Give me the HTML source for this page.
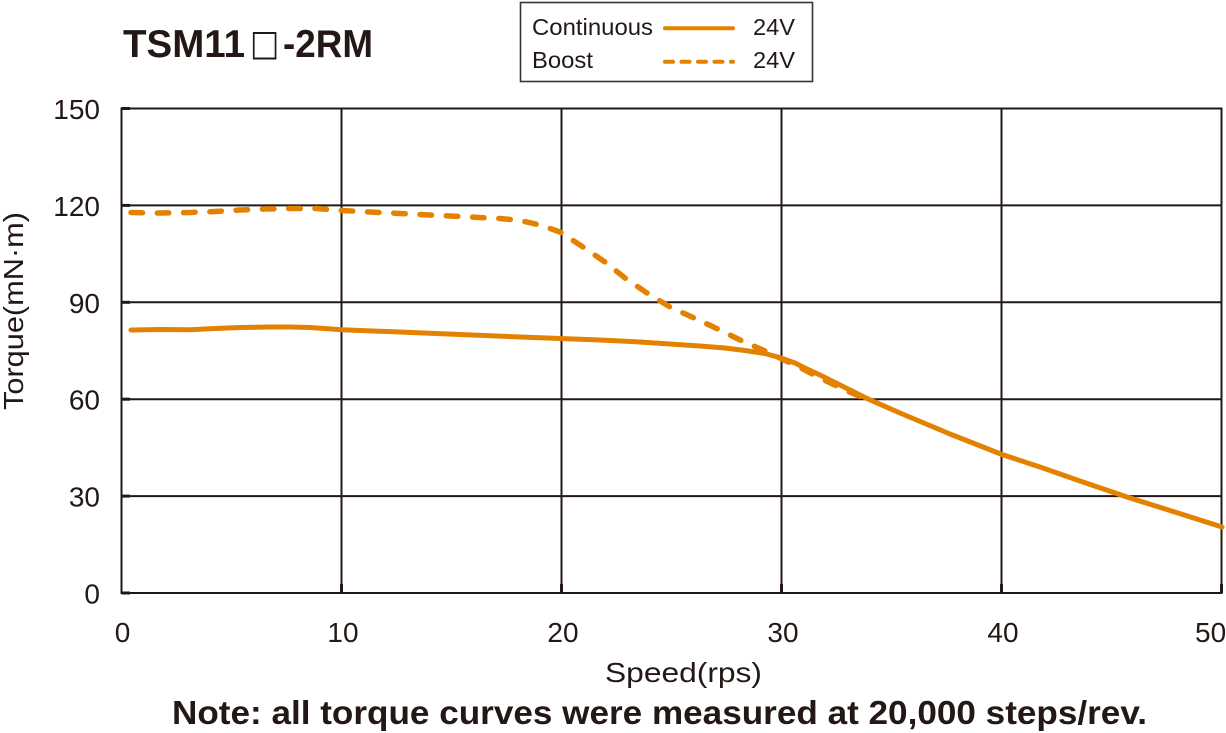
<!DOCTYPE html>
<html>
<head>
<meta charset="utf-8">
<style>
  html,body{margin:0;padding:0;background:#fff;}
  svg{display:block;}
  text{font-family:"Liberation Sans","Noto Sans CJK JP",sans-serif;fill:#231815;}
</style>
</head>
<body>
<svg width="1226" height="733" viewBox="0 0 1226 733" xmlns="http://www.w3.org/2000/svg">
  <rect x="0" y="0" width="1226" height="733" fill="#fff"/>

  <!-- Title -->
  <text x="123" y="57" font-size="39" font-weight="bold" textLength="122" lengthAdjust="spacingAndGlyphs">TSM11</text>
  <text x="250" y="55" font-size="36" style="font-family:'DejaVu Sans',sans-serif" textLength="29" lengthAdjust="spacingAndGlyphs">□</text>
  <text x="283" y="57" font-size="39" font-weight="bold" textLength="90" lengthAdjust="spacingAndGlyphs">-2RM</text>

  <!-- Legend -->
  <rect x="520.5" y="2.5" width="292" height="79" fill="#fff" stroke="#3a3330" stroke-width="1.6"/>
  <text x="532" y="35" font-size="23" textLength="121" lengthAdjust="spacingAndGlyphs">Continuous</text>
  <text x="532" y="68" font-size="23" textLength="61" lengthAdjust="spacingAndGlyphs">Boost</text>
  <line x1="665" y1="28.3" x2="733" y2="28.3" stroke="#E38100" stroke-width="4" stroke-linecap="round"/>
  <line x1="665" y1="61.7" x2="733" y2="61.7" stroke="#E38100" stroke-width="4" stroke-linecap="round" stroke-dasharray="8 8.5"/>
  <text x="753" y="35" font-size="23" textLength="42" lengthAdjust="spacingAndGlyphs">24V</text>
  <text x="753" y="68" font-size="23" textLength="42" lengthAdjust="spacingAndGlyphs">24V</text>

  <!-- Grid -->
  <g stroke="#231815" stroke-width="2" fill="none">
    <line x1="121.5" y1="205.4" x2="1221.5" y2="205.4"/>
    <line x1="121.5" y1="302.3" x2="1221.5" y2="302.3"/>
    <line x1="121.5" y1="399.2" x2="1221.5" y2="399.2"/>
    <line x1="121.5" y1="496.1" x2="1221.5" y2="496.1"/>
    <line x1="341.5" y1="108.5" x2="341.5" y2="593"/>
    <line x1="561.5" y1="108.5" x2="561.5" y2="593"/>
    <line x1="781.5" y1="108.5" x2="781.5" y2="593"/>
    <line x1="1001.5" y1="108.5" x2="1001.5" y2="593"/>
    <rect x="121.5" y="108.5" width="1100" height="484.5"/>
  </g>
  <!-- small ticks -->
  <g stroke="#231815" stroke-width="3">
    <line x1="121.5" y1="108.5" x2="130" y2="108.5"/>
    <line x1="121.5" y1="205.4" x2="130" y2="205.4"/>
    <line x1="121.5" y1="302.3" x2="130" y2="302.3"/>
    <line x1="121.5" y1="399.2" x2="130" y2="399.2"/>
    <line x1="121.5" y1="496.1" x2="130" y2="496.1"/>
    <line x1="121.5" y1="593" x2="130" y2="593"/>
    <line x1="341.5" y1="584" x2="341.5" y2="593"/>
    <line x1="561.5" y1="584" x2="561.5" y2="593"/>
    <line x1="781.5" y1="584" x2="781.5" y2="593"/>
    <line x1="1001.5" y1="584" x2="1001.5" y2="593"/>
    <line x1="1221.5" y1="584" x2="1221.5" y2="593"/>
  </g>

  <!-- Y tick labels -->
  <g font-size="28" text-anchor="end">
    <text x="100" y="119">150</text>
    <text x="100" y="215.9">120</text>
    <text x="100" y="312.8">90</text>
    <text x="100" y="409.7">60</text>
    <text x="100" y="506.6">30</text>
    <text x="100" y="603.5">0</text>
  </g>
  <!-- X tick labels -->
  <g font-size="28" text-anchor="middle">
    <text x="122.5" y="642">0</text>
    <text x="343" y="642">10</text>
    <text x="563" y="642">20</text>
    <text x="783" y="642">30</text>
    <text x="1003" y="642">40</text>
  </g>
  <text x="1195" y="642" font-size="28">50</text>

  <!-- Axis titles -->
  <text x="605" y="682" font-size="28" textLength="157" lengthAdjust="spacingAndGlyphs">Speed(rps)</text>
  <text transform="translate(23,311) rotate(-90)" font-size="28" text-anchor="middle" textLength="198" lengthAdjust="spacingAndGlyphs">Torque(mN·m)</text>

  <!-- Note -->
  <text x="172" y="724" font-size="33" font-weight="bold" textLength="975" lengthAdjust="spacingAndGlyphs">Note: all torque curves were measured at 20,000 steps/rev.</text>

  <!-- Boost (dashed) -->
  <polyline fill="none" stroke="#E38100" stroke-width="5.5" stroke-linecap="round" stroke-linejoin="round" stroke-dasharray="11.5 14.8"
    points="131,212.5 160,213 190,212.5 215,211.5 240,210 265,209 290,208.5 316,208.5 342,210.5 380,212.5 420,214.5 460,216.5 500,218.5 520,220.5 540,225 560,232 580,245 605,262 625,278 647,293 670,307 692,317 720,330 740,340 765,351 781,358.5 800,367.5 820,378 845,390 868,400"/>

  <!-- Continuous (solid) -->
  <polyline fill="none" stroke="#E38100" stroke-width="5" stroke-linecap="round" stroke-linejoin="round"
    points="131,330 160,329.5 190,329.8 215,328.5 240,327.5 270,327 290,327 310,327.5 342,329.8 400,332 460,334.5 520,337 560,338.5 600,340 640,342 670,344 700,346 725,348 745,350.5 765,353.5 781,358 795,363 805,368 820,375 840,385 868,399 900,413 950,434 1002,454.5 1040,467 1080,481 1127,497 1170,510.5 1222,527"/>
</svg>
</body>
</html>
